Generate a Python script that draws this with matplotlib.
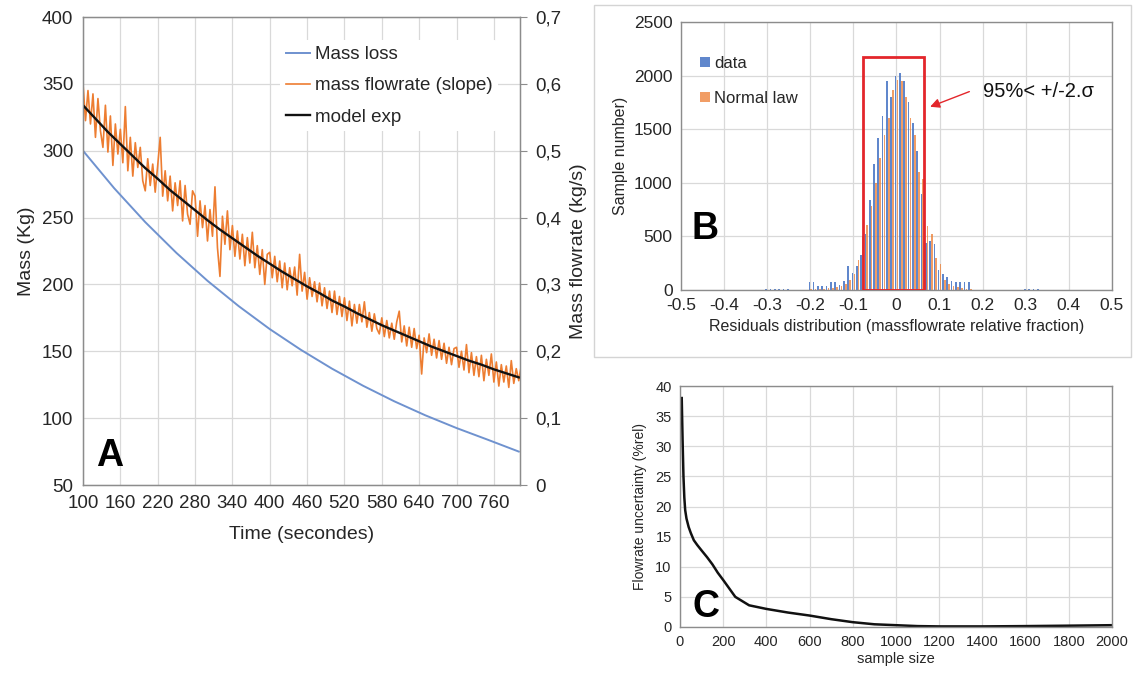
import numpy as np
import matplotlib
matplotlib.use("Agg")
import matplotlib.pyplot as plt
from matplotlib.patches import Rectangle
from matplotlib.ticker import FuncFormatter

plt.rcParams['font.family'] = ['Liberation Sans', 'DejaVu Sans']

# ---- panel A data ----
t_step = np.arange(100, 805, 4)          # time grid of the slope series (s)
flowrate_slope = [
    0.600, 0.545, 0.590, 0.540, 0.585,
    0.520, 0.578, 0.530, 0.505, 0.568,
    0.498, 0.552, 0.478, 0.540, 0.495,
    0.532, 0.482, 0.566, 0.470, 0.520,
    0.462, 0.512, 0.475, 0.505, 0.455,
    0.440, 0.488, 0.448, 0.480, 0.438,
    0.478, 0.520, 0.432, 0.470, 0.425,
    0.462, 0.410, 0.452, 0.418, 0.455,
    0.395, 0.448, 0.405, 0.390, 0.440,
    0.432, 0.372, 0.425, 0.385, 0.418,
    0.365, 0.412, 0.372, 0.446, 0.355,
    0.312, 0.402, 0.360, 0.410, 0.352,
    0.388, 0.342, 0.380, 0.338, 0.375,
    0.328, 0.370, 0.332, 0.378, 0.325,
    0.358, 0.315, 0.352, 0.300, 0.345,
    0.348, 0.310, 0.342, 0.304, 0.335,
    0.295, 0.332, 0.292, 0.325, 0.298,
    0.326, 0.284, 0.345, 0.290, 0.318,
    0.278, 0.310, 0.282, 0.304, 0.274,
    0.302, 0.268, 0.295, 0.264, 0.290,
    0.258, 0.290, 0.255, 0.282, 0.252,
    0.280, 0.246, 0.275, 0.238, 0.270,
    0.242, 0.270, 0.244, 0.274, 0.236,
    0.258, 0.230, 0.256, 0.234, 0.226,
    0.250, 0.222, 0.246, 0.220, 0.242,
    0.218, 0.244, 0.260, 0.214, 0.238,
    0.208, 0.236, 0.206, 0.234, 0.204,
    0.224, 0.166, 0.220, 0.198, 0.226,
    0.194, 0.218, 0.190, 0.216, 0.188,
    0.212, 0.182, 0.206, 0.180, 0.204,
    0.206, 0.176, 0.200, 0.172, 0.210,
    0.168, 0.198, 0.164, 0.192, 0.162,
    0.194, 0.156, 0.188, 0.164, 0.196,
    0.154, 0.184, 0.148, 0.180, 0.154,
    0.178, 0.146, 0.186, 0.152, 0.174,
    0.156, 0.178,
]

t_model = np.arange(100, 801, 20)
model_exp = [0.568, 0.548, 0.528, 0.510, 0.492, 0.474, 0.458, 0.441, 0.426,
             0.411, 0.396, 0.382, 0.369, 0.356, 0.343, 0.331, 0.319, 0.308,
             0.297, 0.287, 0.276, 0.267, 0.257, 0.248, 0.239, 0.231, 0.223,
             0.215, 0.207, 0.200, 0.193, 0.186, 0.180, 0.173, 0.167, 0.161]

t_mass = [100, 150, 200, 250, 300, 350, 400, 450, 500, 550, 600, 650, 700, 750, 800]
mass_loss = [300, 272, 246.6, 223.6, 202.7, 183.8, 166.6, 151.1, 137.0,
             124.2, 112.6, 102.1, 92.6, 83.9, 75.0]

# ---- panel B data ----
residual_bins = [-0.30, -0.29, -0.28, -0.27, -0.26, -0.25,
                 -0.20, -0.19, -0.18, -0.17, -0.16, -0.15, -0.14, -0.13, -0.12, -0.11,
                 -0.10, -0.09, -0.08, -0.07, -0.06, -0.05, -0.04, -0.03, -0.02, -0.01,
                 0.00, 0.01, 0.02, 0.03, 0.04, 0.05, 0.06, 0.07, 0.08, 0.09,
                 0.10, 0.11, 0.12, 0.13, 0.14, 0.15, 0.16, 0.17,
                 0.30, 0.31, 0.32, 0.33]
hist_data = [8, 8, 8, 8, 8, 8,
             75, 70, 40, 35, 40, 75, 75, 50, 80, 220,
             155, 225, 330, 520, 840, 1180, 1420, 1620, 1950, 1800,
             2000, 2020, 1950, 1750, 1560, 1300, 900, 440, 460, 430,
             190, 150, 120, 85, 70, 75, 75, 75,
             8, 8, 8, 8]
hist_normal = [0, 0, 0, 0, 0, 0,
               5, 5, 8, 10, 15, 20, 28, 40, 60, 95,
               150, 280, 500, 610, 780, 1000, 1230, 1450, 1600, 1870,
               1960, 1950, 1800, 1600, 1450, 1100, 1040, 600, 520, 300,
               240, 90, 60, 40, 25, 15, 10, 5,
               0, 0, 0, 0]

# ---- panel C data ----
sample_size = [8, 12, 16, 20, 24, 30, 40, 50, 64, 80, 100, 125, 150, 175, 200,
               256, 320, 400, 500, 600, 700, 800, 900, 1000, 1100, 1200,
               1400, 1600, 1800, 2000]
uncertainty = [38, 31, 25, 21.5, 19.4, 18, 16.6, 15.6, 14.4, 13.6, 12.7, 11.6,
               10.4, 9.0, 7.8, 5.0, 3.6, 3.0, 2.4, 1.9, 1.3, 0.8, 0.45, 0.3,
               0.15, 0.1, 0.1, 0.15, 0.22, 0.3]

BLUE = '#4472C4'
ORANGE = '#ED7D31'
GRID = '#d9d9d9'
SPINE = '#8c8c8c'
TXT = '#262626'

fig = plt.figure(figsize=(11.33, 6.73), dpi=100)


def style_box(ax):
    for s in ax.spines.values():
        s.set_color(SPINE)
        s.set_linewidth(1.0)
    ax.grid(True, color=GRID, linewidth=0.9)
    ax.set_axisbelow(True)


# ======== A ========
axA = fig.add_axes([83 / 1133, 1 - 485 / 673, 437 / 1133, 468 / 673])
style_box(axA)
lA, = axA.plot(t_mass, mass_loss, color='#6f92cf', lw=1.4, label='Mass loss')
axA.set_xlim(100, 802)
axA.set_ylim(50, 400)
axA.set_xticks(range(100, 761, 60))
axA.set_yticks(range(50, 401, 50))
axA.tick_params(length=0, labelsize=13.5, colors=TXT, pad=7)
axA.set_xlabel('Time (secondes)', fontsize=14, color=TXT, labelpad=10)
axA.set_ylabel('Mass (Kg)', fontsize=14, color=TXT, labelpad=5)

axA2 = axA.twinx()
axA2.set_ylim(0, 0.7)
axA2.set_yticks(np.arange(0, 0.71, 0.1))
axA2.yaxis.set_major_formatter(FuncFormatter(lambda v, p: '0' if abs(v) < 1e-9 else f'{v:.1f}'.replace('.', ',')))
axA2.tick_params(axis='y', length=5, direction='out', color=SPINE, labelsize=13.5, colors=TXT, pad=6)
for s in axA2.spines.values():
    s.set_color(SPINE)
lO, = axA2.plot(t_step, flowrate_slope, color=ORANGE, lw=1.2, label='mass flowrate (slope)')
lK, = axA2.plot(t_model, model_exp, color='#111111', lw=1.7, label='model exp')
axA2.set_ylabel('Mass flowrate (kg/s)', fontsize=14, color=TXT, labelpad=6)
leg = axA2.legend(handles=[lA, lO, lK], loc='upper left', bbox_to_anchor=(0.43, 0.97),
                  fontsize=13.5, frameon=True, facecolor='white', edgecolor='none',
                  framealpha=1, handlelength=1.3, handletextpad=0.25, labelspacing=0.75,
                  borderpad=0.3)
for txt in leg.get_texts():
    txt.set_color(TXT)
axA.text(0.03, 0.04, 'A', transform=axA.transAxes, fontsize=27, fontweight='bold')

# ======== B ========
fig.patches.append(Rectangle((594 / 1133, 1 - 357 / 673), 537 / 1133, 352 / 673,
                             transform=fig.transFigure, fill=False,
                             edgecolor='#d4d4d4', lw=1.0))
axB = fig.add_axes([681 / 1133, 1 - 290 / 673, 431 / 1133, 268 / 673])
style_box(axB)
rb = np.array(residual_bins)
axB.bar(rb - 0.0022, hist_data, width=0.0038, color=BLUE, alpha=0.85, label='data')
axB.bar(rb + 0.0022, hist_normal, width=0.0038, color=ORANGE, alpha=0.75, label='Normal law')
axB.set_xlim(-0.5, 0.5)
axB.set_ylim(0, 2500)
axB.set_xticks(np.round(np.arange(-0.5, 0.51, 0.1), 1))
axB.set_xticklabels(['-0.5', '-0.4', '-0.3', '-0.2', '-0.1', '0', '0.1', '0.2', '0.3', '0.4', '0.5'])
axB.set_yticks(range(0, 2501, 500))
axB.tick_params(length=0, labelsize=12.5, colors=TXT, pad=6)
axB.set_xlabel('Residuals distribution (massflowrate relative fraction)', fontsize=11.5, color=TXT, labelpad=4)
axB.set_ylabel('Sample number)', fontsize=11.5, color=TXT, labelpad=4)
axB.add_patch(Rectangle((-0.078, 0), 0.142, 2175, fill=False, edgecolor='#e3262b', lw=2, zorder=5))
axB.annotate('', xy=(0.072, 1700), xytext=(0.175, 1860),
             arrowprops=dict(arrowstyle='-|>', color='#e3262b', lw=1, mutation_scale=14), zorder=6)
axB.text(0.2, 1850, '95%< +/-2.\u03c3', fontsize=14.5, color='#111111', va='center')
lgB = axB.legend(loc='upper left', bbox_to_anchor=(0.01, 0.93), fontsize=12, frameon=False,
                 handlelength=0.6, handleheight=0.6, handletextpad=0.25, labelspacing=1.2)
for txt in lgB.get_texts():
    txt.set_color(TXT)
axB.text(0.025, 0.19, 'B', transform=axB.transAxes, fontsize=27, fontweight='bold')

# ======== C ========
axC = fig.add_axes([680 / 1133, 1 - 627 / 673, 432 / 1133, 241 / 673])
style_box(axC)
axC.plot(sample_size, uncertainty, color='#111111', lw=1.8)
axC.set_xlim(0, 2000)
axC.set_ylim(0, 40)
axC.set_xticks(range(0, 2001, 200))
axC.set_yticks(range(0, 41, 5))
axC.tick_params(length=0, labelsize=10.5, colors=TXT, pad=6)
axC.set_xlabel('sample size', fontsize=10.5, color=TXT, labelpad=2)
axC.set_ylabel('Flowrate uncertainty (%rel)', fontsize=10, color=TXT, labelpad=6)
axC.text(0.03, 0.04, 'C', transform=axC.transAxes, fontsize=27, fontweight='bold')

fig.savefig('out.png', dpi=100)
